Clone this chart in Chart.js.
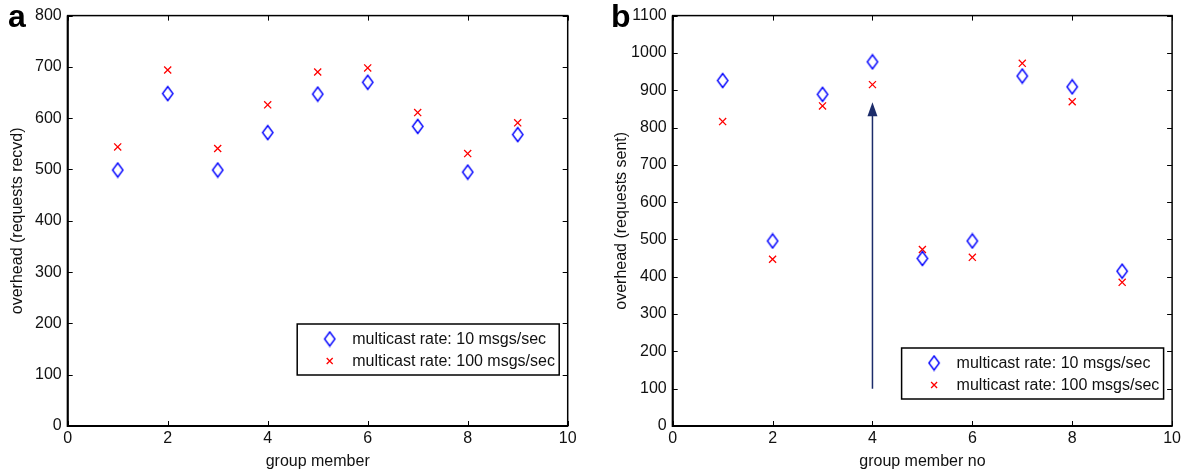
<!DOCTYPE html>
<html>
<head>
<meta charset="utf-8">
<script src="https://cdn.jsdelivr.net/npm/chart.js@4.4.1/dist/chart.umd.min.js"></script>
<style>
  body { margin: 0; background: #fff; width: 1184px; height: 472px; overflow: hidden; position: relative; }
  .panel { position: absolute; top: 0; height: 472px; }
  #panelA { left: 0; width: 590px; }
  #panelB { left: 592px; width: 592px; }
</style>
</head>
<body>
<div class="panel" id="panelA"><canvas id="chartA"></canvas></div>
<div class="panel" id="panelB"><canvas id="chartB"></canvas></div>
<script>
// data
const members      = [1, 2, 3, 4, 5, 6, 7, 8, 9];
const recvdRate10  = [499, 648, 499, 572, 647, 670, 584, 495, 568];
const recvdRate100 = [544, 694, 541, 626, 690, 698, 611, 531, 591];
const sentRate10   = [926, 496, 889, 976, 449, 496, 938, 909, 415];
const sentRate100  = [816, 447, 858, 915, 473, 452, 972, 869, 385];

const xTicks     = [0, 2, 4, 6, 8, 10];
const recvdTicks = [0, 100, 200, 300, 400, 500, 600, 700, 800];
const sentTicks  = [0, 100, 200, 300, 400, 500, 600, 700, 800, 900, 1000, 1100];

const seriesLabels = ["multicast rate: 10 msgs/sec", "multicast rate: 100 msgs/sec"];

// arrow in panel b: member 4, from 100 up to ~868
const arrowMember = 4;
const arrowFrom   = 100;
const arrowTo     = 868;

const BLUE = "#0000ff";
const RED  = "#ff0000";
const NAVY = "#1c2c6a";
const FONT = "'Liberation Sans', Arial, Helvetica, sans-serif";

Chart.defaults.font.family = FONT;
Chart.defaults.font.size = 16;
Chart.defaults.color = "#111";

// tall matlab-like diamond marker
function diamondImage() {
  const c = document.createElement("canvas");
  c.width = 14; c.height = 17;
  const g = c.getContext("2d");
  g.strokeStyle = BLUE;
  g.lineWidth = 1.4;
  g.beginPath();
  g.moveTo(7, 1.5); g.lineTo(12.2, 8.5); g.lineTo(7, 15.5); g.lineTo(1.8, 8.5);
  g.closePath();
  g.stroke();
  return c;
}
const diamond = diamondImage();

function drawCross(ctx, x, y, r) {
  ctx.save();
  ctx.strokeStyle = RED;
  ctx.lineWidth = 1.3;
  ctx.beginPath();
  ctx.moveTo(x - r, y - r); ctx.lineTo(x + r, y + r);
  ctx.moveTo(x + r, y - r); ctx.lineTo(x - r, y + r);
  ctx.stroke();
  ctx.restore();
}

// frame with inward ticks, panel letter, legend box, optional arrow
const framePlugin = {
  id: "frame",
  afterDraw(chart, args, opts) {
    const { ctx, chartArea: a, scales } = chart;
    ctx.save();
    ctx.strokeStyle = "#000";
    ctx.lineWidth = 1.5;
    ctx.strokeRect(a.left, a.top, a.right - a.left, a.bottom - a.top);
    ctx.lineWidth = 2;
    ctx.beginPath();
    ctx.moveTo(a.left, a.top); ctx.lineTo(a.left, a.bottom); ctx.lineTo(a.right, a.bottom);
    ctx.stroke();

    ctx.lineWidth = 1;
    ctx.beginPath();
    scales.x.ticks.forEach(t => {
      const px = Math.round(scales.x.getPixelForValue(t.value)) + 0.5;
      ctx.moveTo(px, a.bottom); ctx.lineTo(px, a.bottom - 5);
      ctx.moveTo(px, a.top); ctx.lineTo(px, a.top + 5);
    });
    scales.y.ticks.forEach(t => {
      const py = Math.round(scales.y.getPixelForValue(t.value)) + 0.5;
      ctx.moveTo(a.left, py); ctx.lineTo(a.left + 5, py);
      ctx.moveTo(a.right, py); ctx.lineTo(a.right - 5, py);
    });
    ctx.stroke();

    // panel letter
    ctx.fillStyle = "#000";
    ctx.font = "bold 32px " + FONT;
    ctx.textBaseline = "alphabetic";
    ctx.textAlign = "left";
    ctx.fillText(opts.letter, opts.letterX, 27);

    // arrow
    if (opts.arrow) {
      const ax = scales.x.getPixelForValue(arrowMember);
      const y0 = scales.y.getPixelForValue(arrowFrom);
      const y1 = scales.y.getPixelForValue(arrowTo);
      ctx.strokeStyle = NAVY;
      ctx.fillStyle = NAVY;
      ctx.lineWidth = 1.5;
      ctx.beginPath();
      ctx.moveTo(ax, y0); ctx.lineTo(ax, y1 + 12);
      ctx.stroke();
      ctx.beginPath();
      ctx.moveTo(ax, y1); ctx.lineTo(ax + 5, y1 + 14); ctx.lineTo(ax - 5, y1 + 14);
      ctx.closePath();
      ctx.fill();
    }

    // legend
    const bw = 262, bh = 51;
    const bx = a.right - 8.5 - bw;
    const by = a.bottom - opts.legendBottom - bh;
    ctx.fillStyle = "#fff";
    ctx.fillRect(bx, by, bw, bh);
    ctx.strokeStyle = "#000";
    ctx.lineWidth = 1.5;
    ctx.strokeRect(bx, by, bw, bh);
    ctx.drawImage(diamond, bx + 32.5 - 7, by + 15 - 8.5);
    drawCross(ctx, bx + 32.5, by + 37, 3);
    ctx.fillStyle = "#111";
    ctx.font = "16px " + FONT;
    ctx.textBaseline = "middle";
    ctx.fillText(seriesLabels[0], bx + 55, by + 15.5);
    ctx.fillText(seriesLabels[1], bx + 55, by + 37.5);
    ctx.restore();
  }
};

function makeChart(id, s10, s100, yTicks, yMax, yTitle, xTitle, o) {
  const pts10  = members.map((m, i) => ({ x: m, y: s10[i] }));
  const pts100 = members.map((m, i) => ({ x: m, y: s100[i] }));
  return new Chart(document.getElementById(id), {
    type: "scatter",
    data: {
      datasets: [
        { label: seriesLabels[0], data: pts10, pointStyle: diamond, pointRadius: 7,
          borderColor: BLUE, backgroundColor: "transparent" },
        { label: seriesLabels[1], data: pts100, pointStyle: "crossRot", pointRadius: 5,
          borderColor: RED, borderWidth: 1.3, backgroundColor: RED }
      ]
    },
    options: {
      responsive: true,
      maintainAspectRatio: false,
      animation: false,
      events: [],
      layout: { padding: { top: 15, right: o.padRight, left: 0, bottom: 0 } },
      plugins: {
        legend: { display: false },
        tooltip: { enabled: false },
        frame: o
      },
      scales: {
        x: {
          type: "linear", min: 0, max: 10,
          afterBuildTicks: sc => { sc.ticks = xTicks.map(v => ({ value: v })); },
          afterFit: sc => { sc.height = 46; },
          grid: { display: false, drawTicks: false },
          border: { display: false },
          ticks: { padding: 3, maxRotation: 0, callback: v => String(v) },
          title: { display: true, text: xTitle, padding: { top: 0, bottom: 0.5 } }
        },
        y: {
          type: "linear", min: 0, max: yMax,
          afterBuildTicks: sc => { sc.ticks = yTicks.map(v => ({ value: v })); },
          afterFit: sc => { sc.width = o.yWidth; },
          grid: { display: false, drawTicks: false },
          border: { display: false },
          ticks: { padding: 6, callback: v => String(v) },
          title: { display: true, text: yTitle, padding: { top: o.yTitlePad, bottom: 0 } }
        }
      }
    },
    plugins: [framePlugin]
  });
}

makeChart("chartA", recvdRate10, recvdRate100, recvdTicks, 800,
  "overhead (requests recvd)", "group member",
  { letter: "a", letterX: 8, yWidth: 67.7, padRight: 22.3, yTitlePad: 8.4, legendBottom: 51 });

makeChart("chartB", sentRate10, sentRate100, sentTicks, 1100,
  "overhead (requests sent)", "group member no",
  { letter: "b", letterX: 19, yWidth: 80.7, padRight: 11.3, yTitlePad: 20.4, legendBottom: 27, arrow: true });
</script>
</body>
</html>
